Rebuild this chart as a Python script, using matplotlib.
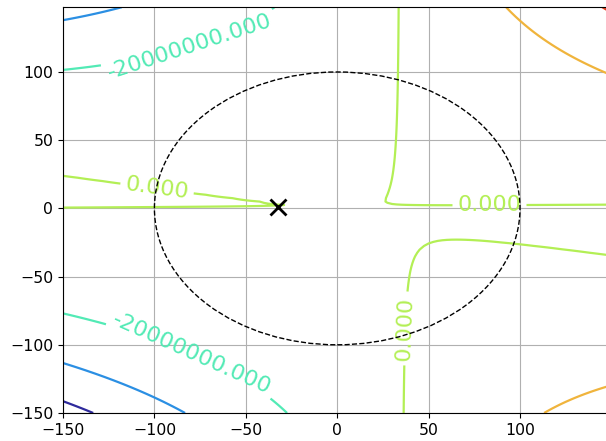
import numpy as np
import matplotlib
matplotlib.use('Agg')
import matplotlib.pyplot as plt
from matplotlib.patches import Circle

# ------------------
# cubic surface f(x, y) = sum c * (x/100)^i * (y/100)^j, values in millions
x_pow = [0, 0, 0, 0, 1, 1, 1, 2, 2, 3]
y_pow = [0, 1, 2, 3, 0, 1, 2, 0, 1, 0]
coef = [-0.00090, 0.0649698, -4.81968, 0.0230534, 0.00120524,
        -0.396947, 13.8214, -0.0406243, 2.48441, -0.0182374]

grid_lo, grid_hi, grid_step = -150.0, 150.0, 2.5

levels = [-60e6, -40e6, -20e6, 0.0, 20e6, 40e6]
level_colors = ['#2e2a9c', '#2b8fe3', '#52eab5', '#b3ef55', '#f0b43c', '#e2401f']

radius = 100.0
best_x, best_y = -32.5, 1.2

# where the contour labels sit
label_spots = [(-81, 120), (-80, -108), (-98.6, 14.3), (83.3, 3.3), (36.9, -88)]
# ------------------


def surface(x, y):
  u = x / 100.0
  v = y / 100.0
  z = np.zeros_like(x)
  for i, j, c in zip(x_pow, y_pow, coef):
    z = z + c * u ** i * v ** j
  return z * 1e6


xs = np.arange(grid_lo, grid_hi, grid_step)
X, Y = np.meshgrid(xs, xs)
Z = surface(X, Y)

fig = plt.figure(figsize=(6.06, 4.41), dpi=100)
ax = fig.add_axes([0.104, 0.0635, 0.8974, 0.9202])

cs = ax.contour(X, Y, Z, levels=levels, colors=level_colors, linewidths=1.6)
ax.clabel(cs, fmt='%.3f', fontsize=16, inline=True, manual=label_spots)

# feasible region boundary and the optimum
ax.add_patch(Circle((0, 0), radius, fill=False, ls='--', ec='k', lw=1.0, zorder=5))
ax.plot([best_x], [best_y], marker='x', color='k', ms=11, mew=2.0, zorder=6)

ax.set_xlim(xs[0], xs[-1])
ax.set_ylim(xs[0], xs[-1])
ax.grid(True)
ax.tick_params(labelsize=11.3)

fig.savefig('out.png', dpi=100)
